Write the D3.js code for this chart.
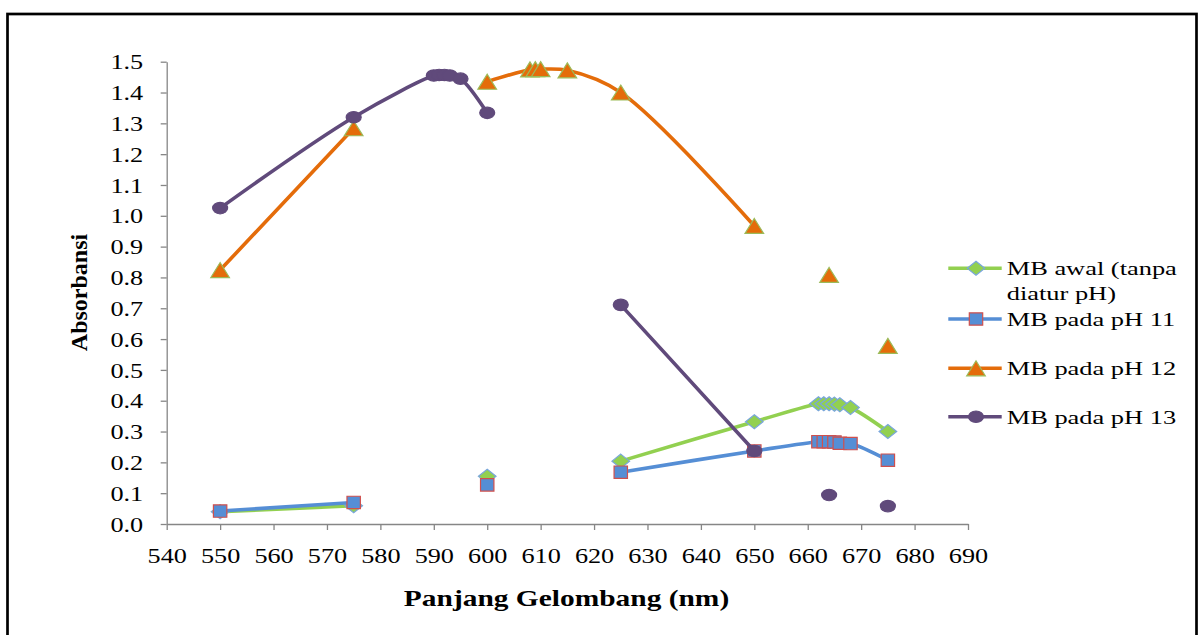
<!DOCTYPE html>
<html lang="id">
<head>
    <meta charset="UTF-8">
    <title>Absorbansi MB</title>
    <style>
        body { margin: 0; background: #fff; }
        svg { display: block; }
        text { font-family: "Liberation Serif", "Times New Roman", serif; fill: #000; }
    </style>
</head>
<body>
<svg width="1203" height="635"></svg>

<script src="https://d3js.org/d3.v7.min.js"></script>
<script>
    // data
    const wavelengths = [550, 575, 590, 591, 592, 593, 595, 600, 608, 609, 610, 615, 625, 650, 662, 663, 664, 665, 666, 668, 675];
    const mbAwal = [0.040, 0.059, null, null, null, null, null, 0.155, null, null, null, null, 0.204, 0.332, 0.390, 0.390, 0.390, 0.389, 0.387, 0.378, 0.300];
    const mbPh11 = [0.042, 0.070, null, null, null, null, null, 0.127, null, null, null, null, 0.168, 0.237, 0.267, 0.267, 0.267, 0.266, 0.262, 0.261, 0.207];
    const mbPh12 = [0.824, 1.284, null, null, null, null, null, 1.435, 1.475, 1.476, 1.476, 1.472, 1.400, 0.967, null, null, 0.808, null, null, null, 0.578];
    const mbPh13 = [1.025, 1.320, 1.455, 1.457, 1.457, 1.455, 1.445, 1.334, null, null, null, null, 0.711, 0.237, null, null, 0.094, null, null, null, 0.058];
    const seriesNames = [["MB awal (tanpa", "diatur pH)"], ["MB pada pH 11"], ["MB pada pH 12"], ["MB pada pH 13"]];
    const xTicks = [540, 550, 560, 570, 580, 590, 600, 610, 620, 630, 640, 650, 660, 670, 680, 690];
    const yTicks = [0.0, 0.1, 0.2, 0.3, 0.4, 0.5, 0.6, 0.7, 0.8, 0.9, 1.0, 1.1, 1.2, 1.3, 1.4, 1.5];

    const svg = d3.select("svg");
    const stretch = 1.28;   // the original text is wide

    // frame
    svg.append("rect")
        .attr("x", 7.5).attr("y", 14)
        .attr("width", 1189).attr("height", 640)
        .attr("fill", "none").attr("stroke", "#000").attr("stroke-width", 2.7);

    const x = d3.scaleLinear().domain([540, 690]).range([166.7, 968]);
    const y = d3.scaleLinear().domain([0, 1.5]).range([524, 61.7]);

    const gX = svg.append("g")
        .attr("transform", `translate(0,${y(0)})`)
        .call(d3.axisBottom(x).tickValues(xTicks).tickSize(6).tickSizeOuter(0));
    gX.selectAll("text")
        .attr("y", 0).attr("dy", 0)
        .attr("font-size", 20.5)
        .attr("transform", `translate(0,38.5) scale(${stretch},1)`);

    const gY = svg.append("g")
        .attr("transform", `translate(${x(540)},0)`)
        .call(d3.axisLeft(y).tickValues(yTicks).tickFormat(d3.format(".1f")).tickSize(6).tickSizeOuter(0));
    gY.selectAll("text")
        .attr("x", 0).attr("dy", "0.35em")
        .attr("font-size", 20.5)
        .attr("transform", `translate(-23.5,0) scale(${stretch},1)`);

    svg.selectAll(".domain, .tick line").attr("stroke", "#868686").attr("stroke-width", 1.3);
    svg.selectAll(".tick text").attr("font-family", "Liberation Serif").attr("fill", "#000");

    // axis titles
    svg.append("text")
        .attr("transform", `translate(566.5,606) scale(${stretch},1)`)
        .attr("text-anchor", "middle")
        .attr("font-size", 23).attr("font-weight", "bold")
        .text("Panjang Gelombang (nm)");

    svg.append("text")
        .attr("transform", "translate(86.5,292.5) rotate(-90)")
        .attr("text-anchor", "middle")
        .attr("font-size", 24).attr("font-weight", "bold")
        .text("Absorbansi");

    // marker shapes
    const shapes = {
        diamond: (w, h) => `M0,${-h}L${w},0L0,${h}L${-w},0Z`,
        square: (w, h) => `M${-w},${-h}H${w}V${h}H${-w}Z`,
        triangle: (w, h) => `M0,${-h}L${w},${h}L${-w},${h}Z`,
        ellipse: (w, h) => `M${-w},0A${w},${h} 0 1,0 ${w},0A${w},${h} 0 1,0 ${-w},0Z`
    };

    const series = [
        {values: mbAwal, line: "#92d050", fill: "#92d050", stroke: "#79a6dc", shape: "diamond", w: 8.8, h: 7},
        {values: mbPh11, line: "#558ed5", fill: "#558ed5", stroke: "#d0504d", shape: "square", w: 6.7, h: 6.2},
        {values: mbPh12, line: "#e46c0a", fill: "#e46c0a", stroke: "#9bbb59", shape: "triangle", w: 9.3, h: 7.5},
        {values: mbPh13, line: "#604a7b", fill: "#604a7b", stroke: "#604a7b", shape: "ellipse", w: 7.5, h: 5.7}
    ];

    const line = d3.line()
        .defined(d => d.v != null)
        .x(d => x(d.x))
        .y(d => y(d.v))
        .curve(d3.curveCatmullRom.alpha(0.5));

    series.forEach(s => {
        const pts = wavelengths.map((w, i) => ({x: w, v: s.values[i]}));
        svg.append("path")
            .datum(pts)
            .attr("fill", "none")
            .attr("stroke", s.line)
            .attr("stroke-width", 3.6)
            .attr("stroke-linejoin", "round")
            .attr("d", line);
        svg.append("g").selectAll("path")
            .data(pts.filter(d => d.v != null))
            .join("path")
            .attr("transform", d => `translate(${x(d.x)},${y(d.v)})`)
            .attr("d", shapes[s.shape](s.w, s.h))
            .attr("fill", s.fill)
            .attr("stroke", s.stroke)
            .attr("stroke-width", 1.2);
    });

    // legend
    const legendY = [268.3, 319, 368.3, 416.7];
    const legend = svg.append("g");
    series.forEach((s, i) => {
        const row = legend.append("g").attr("transform", `translate(0,${legendY[i]})`);
        row.append("line")
            .attr("x1", 948.3).attr("x2", 1001.7)
            .attr("stroke", s.line).attr("stroke-width", 3.6);
        row.append("path")
            .attr("transform", "translate(976,0)")
            .attr("d", shapes[s.shape](s.w, s.h))
            .attr("fill", s.fill).attr("stroke", s.stroke).attr("stroke-width", 1.2);
        seriesNames[i].forEach((t, j) => {
            row.append("text")
                .attr("transform", `translate(1006.7,${7 + j * 25}) scale(1.39,1)`)
                .attr("font-size", 19)
                .text(t);
        });
    });
</script>
</body>
</html>
